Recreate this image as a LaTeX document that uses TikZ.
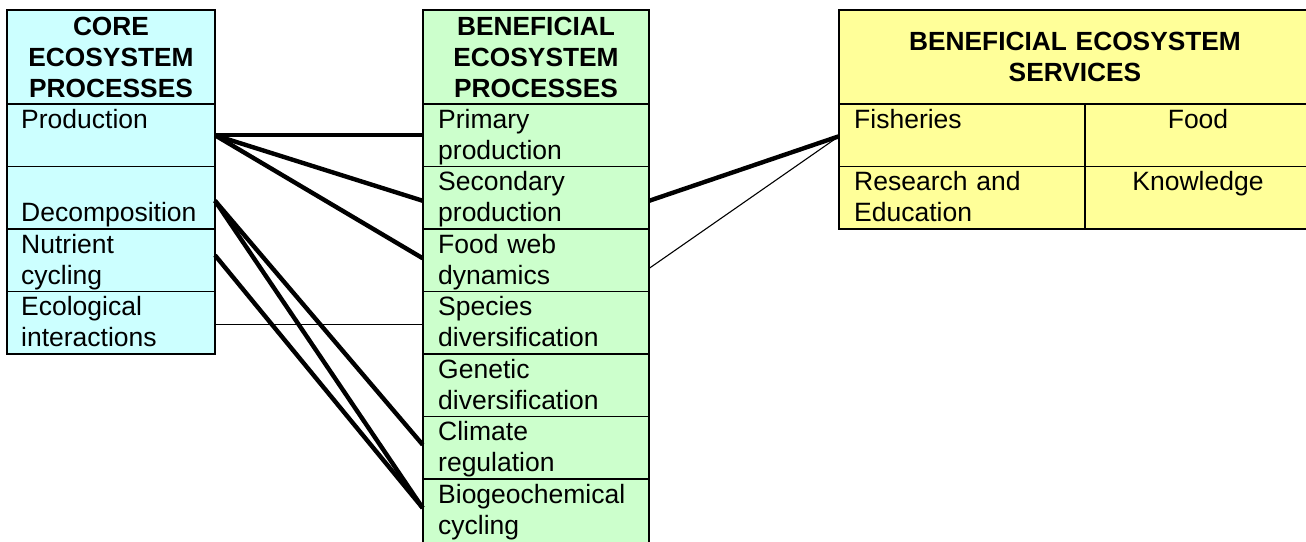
\documentclass[tikz,border=0pt]{standalone}
\usepackage{fontspec}
\setmainfont{Liberation Sans}
\definecolor{cyanfill}{HTML}{CCFFFF}
\definecolor{greenfill}{HTML}{CCFFCC}
\definecolor{yellowfill}{HTML}{FFFF99}
\tikzset{
  cell/.style={draw=black, line width=1.8pt, rectangle, inner sep=0pt, outer sep=0pt, anchor=north west},
  ccell/.style={cell, fill=cyanfill, minimum width=208pt, minimum height=62.5pt},
  gcell/.style={cell, fill=greenfill, minimum width=226.6pt, minimum height=62.5pt},
  lt/.style={font=\fontsize{26.5}{31}\selectfont, inner sep=0pt, anchor=base west, align=left, text width=205pt},
  ct/.style={font=\fontsize{26.5}{31}\selectfont, inner sep=0pt, anchor=base, align=center, text width=220pt},
  hd/.style={font=\bfseries\fontsize{26.3}{31}\selectfont, inner sep=0pt, anchor=base, align=center, text width=460pt},
  boldlink/.style={line width=4.4pt},
  thinlink/.style={line width=1.1pt}
}
\begin{document}
\begin{tikzpicture}[x=1pt,y=-1pt]
\useasboundingbox (0,0) rectangle (1306,541);
% left column
\node[cell, fill=cyanfill, minimum width=208pt, minimum height=94pt] (lh) at (7,10) {};
\node[ccell] (prod) at (7,104) {};
\node[ccell] (decomp) at (7,166.5) {};
\node[ccell] (nutr) at (7,229) {};
\node[ccell] (ecol) at (7,291.5) {};
% middle column
\node[cell, fill=greenfill, minimum width=226.6pt, minimum height=94pt] (mh) at (422.7,10) {};
\node[gcell] (prim) at (422.7,104) {};
\node[gcell] (sec) at (422.7,166.5) {};
\node[gcell] (fweb) at (422.7,229) {};
\node[gcell] (spec) at (422.7,291.5) {};
\node[gcell] (gen) at (422.7,354) {};
\node[gcell] (clim) at (422.7,416.5) {};
\node[gcell, minimum height=64pt] (bio) at (422.7,479) {};
% right box
\node[cell, fill=yellowfill, minimum width=472pt, minimum height=94pt] (rh) at (839,10) {};
\node[cell, fill=yellowfill, minimum width=246pt, minimum height=62.5pt] (fish) at (839,104) {};
\node[cell, fill=yellowfill, minimum width=226pt, minimum height=62.5pt] (food) at (1085,104) {};
\node[cell, fill=yellowfill, minimum width=246pt, minimum height=62.5pt] (res) at (839,166.5) {};
\node[cell, fill=yellowfill, minimum width=226pt, minimum height=62.5pt] (know) at (1085,166.5) {};
% connectors
\draw[boldlink] (prod.east) -- (prim.west);
\draw[boldlink] (prod.east) -- ([yshift=-3pt]sec.west);
\draw[boldlink] (prod.east) -- ([yshift=2pt]fweb.west);
\draw[boldlink] ([yshift=-3pt]decomp.east) -- ([yshift=3pt]clim.west);
\draw[boldlink] ([yshift=-3pt]decomp.east) -- ([yshift=3pt]bio.west);
\draw[boldlink] ([yshift=5pt]nutr.east) -- ([yshift=3pt]bio.west);
\draw[thinlink] ([yshift=-2pt]ecol.east) -- ([yshift=-2pt]spec.west);
\draw[boldlink] ([yshift=-3pt]sec.east) -- ([yshift=-1pt]fish.west);
\draw[thinlink] ([yshift=-8pt]fweb.east) -- ([yshift=-1pt]fish.west);
% texts left
\node[hd, text width=200pt] (lht) at (111,35) {CORE\\ECOSYSTEM\\PROCESSES};
\node[lt, text width=190pt] (prodt) at (21,128) {Production};
\node[lt, text width=190pt] (decompt) at (21,221) {Decomposition};
\node[lt, text width=190pt] (nutrt) at (21,253) {Nutrient\\cycling};
\node[lt, text width=190pt] (ecolt) at (21,315.5) {Ecological\\interactions};
% texts middle
\node[hd, text width=220pt] (mht) at (536,35) {BENEFICIAL\\ECOSYSTEM\\PROCESSES};
\node[lt] (primt) at (438,128) {Primary\\production};
\node[lt] (sect) at (438,190.5) {Secondary\\production};
\node[lt] (fwebt) at (438,253) {Food web\\dynamics};
\node[lt] (spect) at (438,315.5) {Species\\diversification};
\node[lt] (gent) at (438,378) {Genetic\\diversification};
\node[lt] (climt) at (438,440.5) {Climate\\regulation};
\node[lt] (biot) at (438,503) {Biogeochemical\\cycling};
% texts right
\node[hd] (rht) at (1075,50) {BENEFICIAL ECOSYSTEM\\SERVICES};
\node[lt, text width=230pt] (fisht) at (854,128) {Fisheries};
\node[ct] (foodt) at (1198,128) {Food};
\node[lt, text width=230pt] (rest) at (854,190.5) {Research and\\Education};
\node[ct] (knowt) at (1198,190.5) {Knowledge};
\end{tikzpicture}
\end{document}
